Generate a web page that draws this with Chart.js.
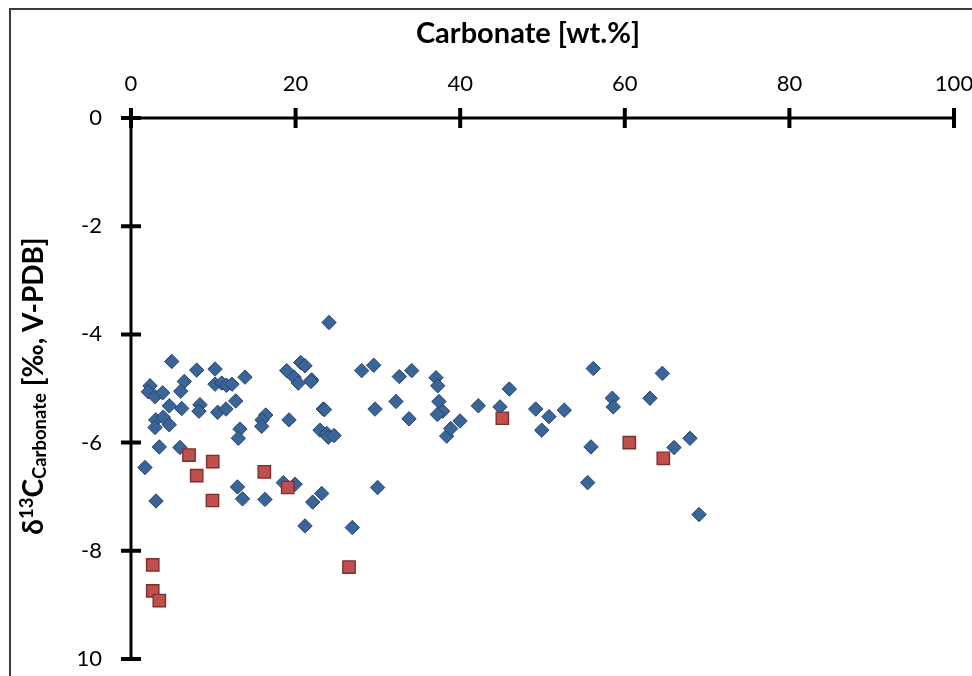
<!DOCTYPE html>
<html>
<head>
<meta charset="utf-8">
<script src="https://cdn.jsdelivr.net/npm/chart.js@4"></script>
<style>
  html, body { margin: 0; padding: 0; background: #fff; overflow: hidden; }
  #wrap { position: relative; width: 972px; height: 676px; overflow: hidden; }
  #frame { position: absolute; left: 9px; top: 8px; width: 1200px; height: 900px;
           border: 2px solid #3a3a3a; box-sizing: border-box; pointer-events: none; }
  canvas { position: absolute; left: 0; top: 0; }
  .ttl { position: absolute; font-family: Lato, sans-serif; font-weight: bold;
         font-size: 29px; line-height: 1; color: #000; white-space: nowrap; }
  #xTitle { left: 328px; top: 17px; width: 400px; text-align: center; }
  #yTitle { left: 32px; top: 386px; font-size: 28px; transform: translate(-50%, -50%) rotate(-90deg); }
  #yTitle sup, #yTitle sub { font-size: 0.66em; vertical-align: baseline; position: relative; }
  #yTitle sup { top: -0.55em; }
  #yTitle sub { top: 0.18em; }
</style>
</head>
<body>
<div id="wrap">
  <canvas id="myChart" width="972" height="676"></canvas>
  <div id="frame"></div>
  <div id="xTitle" class="ttl">Carbonate [wt.%]</div>
  <div id="yTitle" class="ttl">δ<sup>13</sup>C<sub>Carbonate</sub> [‰, V-PDB]</div>
</div>
<script>
// carbonate content (wt.%) and d13C values
const blueX = [4.95, 7.98, 10.21, 2.31, 2.10, 2.92, 3.85, 6.48, 6.04, 10.21,
  11.02, 11.60, 12.27, 13.85, 18.92, 19.81, 20.33, 20.62, 21.14, 21.96,
  21.87, 28.03, 29.49, 4.65, 6.16, 8.38, 8.26, 10.53, 11.54, 12.72,
  3.00, 3.92, 2.92, 4.65, 16.37, 15.92, 15.88, 19.20, 13.24, 13.04,
  3.44, 5.95, 1.70, 12.94, 13.55, 16.28, 3.04, 18.51, 19.93, 23.37,
  23.51, 22.96, 23.78, 23.97, 24.67, 29.65, 24.06, 23.17, 22.08, 21.14,
  26.89, 29.96, 32.60, 34.11, 37.06, 37.27, 37.42, 37.87, 37.22, 38.36,
  38.85, 39.98, 32.20, 33.78, 42.20, 44.84, 45.97, 49.17, 50.79, 52.65,
  49.90, 56.17, 55.89, 55.49, 64.56, 58.48, 58.60, 63.06, 67.92, 65.98,
  69.02];
const blueY = [-4.50, -4.66, -4.64, -4.95, -5.06, -5.15, -5.08, -4.87, -5.05, -4.92,
  -4.90, -4.94, -4.92, -4.79, -4.67, -4.79, -4.90, -4.52, -4.58, -4.84,
  -4.87, -4.67, -4.57, -5.32, -5.37, -5.30, -5.42, -5.44, -5.38, -5.23,
  -5.58, -5.53, -5.72, -5.67, -5.49, -5.58, -5.70, -5.58, -5.75, -5.92,
  -6.08, -6.09, -6.46, -6.82, -7.04, -7.05, -7.08, -6.74, -6.77, -5.38,
  -5.39, -5.77, -5.83, -5.90, -5.87, -5.38, -3.78, -6.94, -7.10, -7.54,
  -7.57, -6.83, -4.78, -4.67, -4.80, -4.95, -5.24, -5.42, -5.48, -5.88,
  -5.74, -5.60, -5.24, -5.56, -5.32, -5.34, -5.01, -5.38, -5.52, -5.40,
  -5.77, -4.63, -6.08, -6.74, -4.72, -5.18, -5.34, -5.18, -5.92, -6.09,
  -7.33];

const redX = [7.05, 9.93, 7.98, 16.20, 9.90, 19.04, 2.64, 2.64, 3.44, 26.49, 45.12, 60.55, 64.68];
const redY = [-6.23, -6.35, -6.61, -6.54, -7.07, -6.83, -8.26, -8.74, -8.92, -8.30, -5.55, -6.00, -6.29];

const xTicks = [0, 20, 40, 60, 80, 100];
const yTicks = [0, -2, -4, -6, -8, -10];

function toPoints(xs, ys) {
  let out = [];
  for (let i = 0; i < xs.length; i++) out.push({ x: xs[i], y: ys[i] });
  return out;
}

// axis lines with ticks crossing them, like the spreadsheet original
const crossAxes = {
  id: "crossAxes",
  beforeDatasetsDraw(chart) {
    const { ctx, scales: { x, y } } = chart;
    const x0 = x.getPixelForValue(0);
    const y0 = y.getPixelForValue(0);
    ctx.save();
    ctx.strokeStyle = "#000";
    ctx.lineWidth = 3;
    ctx.beginPath();
    ctx.moveTo(x0, y0);
    ctx.lineTo(x.getPixelForValue(100), y0);
    ctx.moveTo(x0, y0);
    ctx.lineTo(x0, y.getPixelForValue(-10));
    ctx.stroke();
    ctx.lineWidth = 4;
    ctx.beginPath();
    xTicks.forEach(v => {
      const px = x.getPixelForValue(v);
      ctx.moveTo(px, y0 - 10);
      ctx.lineTo(px, y0 + 10);
    });
    yTicks.forEach(v => {
      const py = y.getPixelForValue(v);
      ctx.moveTo(x0 - 10, py);
      ctx.lineTo(x0 + 10, py);
    });
    ctx.stroke();
    ctx.restore();
  }
};

Chart.defaults.font.family = "Lato";

new Chart(document.getElementById("myChart"), {
  type: "scatter",
  data: {
    datasets: [
      {
        label: "red",
        data: toPoints(redX, redY),
        pointStyle: "rect",
        pointRadius: 8.7,
        backgroundColor: "#c0504d",
        borderColor: "#7e2f2d",
        borderWidth: 1.4,
      },
      {
        label: "blue",
        data: toPoints(blueX, blueY),
        pointStyle: "rectRot",
        pointRadius: 7.2,
        backgroundColor: "#3a6599",
        borderColor: "#26436a",
        borderWidth: 1,
      },
    ],
  },
  options: {
    responsive: false,
    animation: false,
    devicePixelRatio: 1,
    layout: { padding: { left: 0, top: 0, right: 18, bottom: 17 } },
    plugins: { legend: { display: false }, tooltip: { enabled: false } },
    scales: {
      x: {
        type: "linear",
        position: "top",
        min: 0,
        max: 100,
        ticks: { stepSize: 20, color: "#000", font: { size: 22 }, padding: 13, maxRotation: 0 },
        grid: { display: false },
        border: { display: false },
        afterFit: s => { s.height = 118; s.paddingLeft = 0; s.paddingRight = 0; },
      },
      y: {
        type: "linear",
        min: -10,
        max: 0,
        ticks: {
          stepSize: 2,
          color: "#000",
          font: { size: 22 },
          padding: 21,
          callback: v => (v === -10 ? "10" : v),
        },
        grid: { display: false },
        border: { display: false },
        afterFit: s => { s.width = 131; s.paddingTop = 0; s.paddingBottom = 0; },
      },
    },
  },
  plugins: [crossAxes],
});
</script>
</body>
</html>
